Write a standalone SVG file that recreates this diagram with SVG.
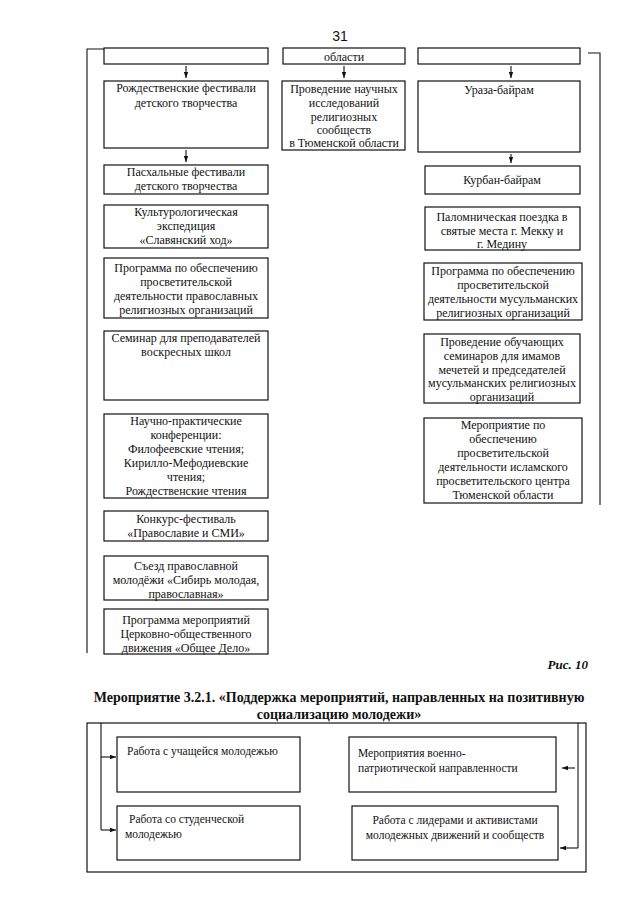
<svg xmlns="http://www.w3.org/2000/svg" width="640" height="905" viewBox="0 0 640 905">
<defs>
<style>
.b{fill:#fff;stroke:#111;stroke-width:1.2}
.t{font-family:"Liberation Serif","Times New Roman",serif;font-size:12px;fill:#111;text-anchor:middle}
.tl{font-family:"Liberation Serif","Times New Roman",serif;font-size:11.5px;fill:#111}
.c{fill:none;stroke:#111;stroke-width:1.1}
.h{font-family:"Liberation Serif","Times New Roman",serif;font-size:14px;font-weight:bold;fill:#111;text-anchor:middle}
</style>
<marker id="ad" viewBox="0 0 6 6" refX="6" refY="3" markerWidth="6" markerHeight="6" orient="auto" markerUnits="userSpaceOnUse"><path d="M0,0.8 L6,3 L0,5.2 z" fill="#111"/></marker>
</defs>
<rect width="640" height="905" fill="#fff"/>
<text x="340" y="41" style="font-family:'Liberation Sans',Arial,sans-serif;font-size:14px;fill:#111" text-anchor="middle">31</text>

<g id="connectors">
<path class="c" d="M104,49 H87 V653"/>
<path class="c" d="M186,66 V78" marker-end="url(#ad)"/>
<path class="c" d="M344,66 V78" marker-end="url(#ad)"/>
<path class="c" d="M511,66 V78" marker-end="url(#ad)"/>
<path class="c" d="M186,150 V162" marker-end="url(#ad)"/>
<path class="c" d="M511,154 V163" marker-end="url(#ad)"/>
<path class="c" d="M588,53 H600 V505"/>
<path class="c" d="M101,723 V830"/>
<path class="c" d="M101,757 H116" marker-end="url(#ad)"/>
<path class="c" d="M101,830 H116" marker-end="url(#ad)"/>
<path class="c" d="M578,723 V848"/>
<path class="c" d="M575,768 H562" marker-end="url(#ad)"/>
<path class="c" d="M578,848 H560" marker-end="url(#ad)"/>
</g>

<g id="n-l0"><rect class="b" x="104" y="48" width="164" height="16"/></g>
<g id="n-m0"><rect class="b" x="283" y="48" width="122" height="16"/><text class="t" x="344" y="61">области</text></g>
<g id="n-r0"><rect class="b" x="418" y="48" width="162" height="16"/></g>

<g id="n-l1"><rect class="b" x="104" y="81" width="164" height="67"/><text class="t" x="186" y="92">Рождественские фестивали</text><text class="t" x="186" y="107">детского творчества</text></g>
<g id="n-m1"><rect class="b" x="282" y="81" width="123" height="69"/><text class="t" x="344" y="93">Проведение научных</text><text class="t" x="344" y="107">исследований</text><text class="t" x="344" y="121">религиозных</text><text class="t" x="344" y="134">сообществ</text><text class="t" x="344" y="147">в Тюменской области</text></g>
<g id="n-r1"><rect class="b" x="418" y="81" width="162" height="71"/><text class="t" x="499" y="94">Ураза-байрам</text></g>

<g id="n-l2"><rect class="b" x="104" y="165" width="164" height="29"/><text class="t" x="186" y="176">Пасхальные фестивали</text><text class="t" x="186" y="190">детского творчества</text></g>
<g id="n-l3"><rect class="b" x="104" y="205" width="164" height="43"/><text class="t" x="186" y="216">Культурологическая</text><text class="t" x="186" y="230">экспедиция</text><text class="t" x="186" y="244">«Славянский ход»</text></g>
<g id="n-l4"><rect class="b" x="104" y="258" width="164" height="60"/><text class="t" x="186" y="272">Программа по обеспечению</text><text class="t" x="186" y="286">просветительской</text><text class="t" x="186" y="300">деятельности православных</text><text class="t" x="186" y="314">религиозных организаций</text></g>
<g id="n-l5"><rect class="b" x="104" y="331" width="164" height="69"/><text class="t" x="186" y="342">Семинар для преподавателей</text><text class="t" x="186" y="356">воскресных школ</text></g>
<g id="n-l6"><rect class="b" x="104" y="414" width="164" height="84"/><text class="t" x="186" y="425">Научно-практические</text><text class="t" x="186" y="439">конференции:</text><text class="t" x="186" y="453">Филофеевские чтения;</text><text class="t" x="186" y="467">Кирилло-Мефодиевские</text><text class="t" x="186" y="481">чтения;</text><text class="t" x="186" y="495">Рождественские чтения</text></g>
<g id="n-l7"><rect class="b" x="104" y="511" width="164" height="30"/><text class="t" x="186" y="523">Конкурс-фестиваль</text><text class="t" x="186" y="537">«Православие и СМИ»</text></g>
<g id="n-l8"><rect class="b" x="104" y="556" width="164" height="44"/><text class="t" x="186" y="570">Съезд православной</text><text class="t" x="186" y="584">молодёжи «Сибирь молодая,</text><text class="t" x="186" y="598">православная»</text></g>
<g id="n-l9"><rect class="b" x="104" y="609" width="164" height="45"/><text class="t" x="186" y="624">Программа мероприятий</text><text class="t" x="186" y="638">Церковно-общественного</text><text class="t" x="186" y="652">движения «Общее Дело»</text></g>

<g id="n-r2"><rect class="b" x="425" y="166" width="155" height="28"/><text class="t" x="502" y="184">Курбан-байрам</text></g>
<g id="n-r3"><rect class="b" x="425" y="207" width="155" height="43"/><text class="t" x="502" y="221">Паломническая поездка в</text><text class="t" x="502" y="235">святые места г. Мекку и</text><text class="t" x="502" y="248">г. Медину</text></g>
<g id="n-r4"><rect class="b" x="424" y="263" width="158" height="57"/><text class="t" x="503" y="275">Программа по обеспечению</text><text class="t" x="503" y="289">просветительской</text><text class="t" x="503" y="303">деятельности мусульманских</text><text class="t" x="503" y="317">религиозных организаций</text></g>
<g id="n-r5"><rect class="b" x="424" y="334" width="156" height="69"/><text class="t" x="502" y="346">Проведение обучающих</text><text class="t" x="502" y="360">семинаров для имамов</text><text class="t" x="502" y="374">мечетей и председателей</text><text class="t" x="502" y="387">мусульманских религиозных</text><text class="t" x="502" y="401">организаций</text></g>
<g id="n-r6"><rect class="b" x="424" y="418" width="158" height="85"/><text class="t" x="503" y="429">Мероприятие по</text><text class="t" x="503" y="443">обеспечению</text><text class="t" x="503" y="457">просветительской</text><text class="t" x="503" y="471">деятельности исламского</text><text class="t" x="503" y="485">просветительского центра</text><text class="t" x="503" y="499">Тюменской области</text></g>

<text x="588" y="669" style="font-family:'Liberation Serif','Times New Roman',serif;font-size:13px;font-weight:bold;font-style:italic;fill:#111" text-anchor="end">Рис. 10</text>
<text class="h" x="339" y="702">Мероприятие 3.2.1. «Поддержка мероприятий, направленных на позитивную</text>
<text class="h" x="339" y="719">социализацию молодежи»</text>

<g id="frame"><rect x="87" y="723" width="499" height="149" fill="none" stroke="#111" stroke-width="1.2"/></g>
<g id="n-b1"><rect class="b" x="117" y="737" width="183" height="55"/><text class="tl" x="127" y="755">Работа с учащейся молодежью</text></g>
<g id="n-b2"><rect class="b" x="117" y="806" width="183" height="54"/><text class="tl" x="129" y="823">Работа со студенческой</text><text class="tl" x="125" y="838">молодежью</text></g>
<g id="n-b3"><rect class="b" x="349" y="737" width="207" height="55"/><text class="tl" x="358" y="757">Мероприятия военно-</text><text class="tl" x="358" y="772">патриотической направленности</text></g>
<g id="n-b4"><rect class="b" x="352" y="806" width="206" height="54"/><text class="tl" x="455" y="824" text-anchor="middle">Работа с лидерами и активистами</text><text class="tl" x="455" y="839" text-anchor="middle">молодежных движений и сообществ</text></g>
</svg>
